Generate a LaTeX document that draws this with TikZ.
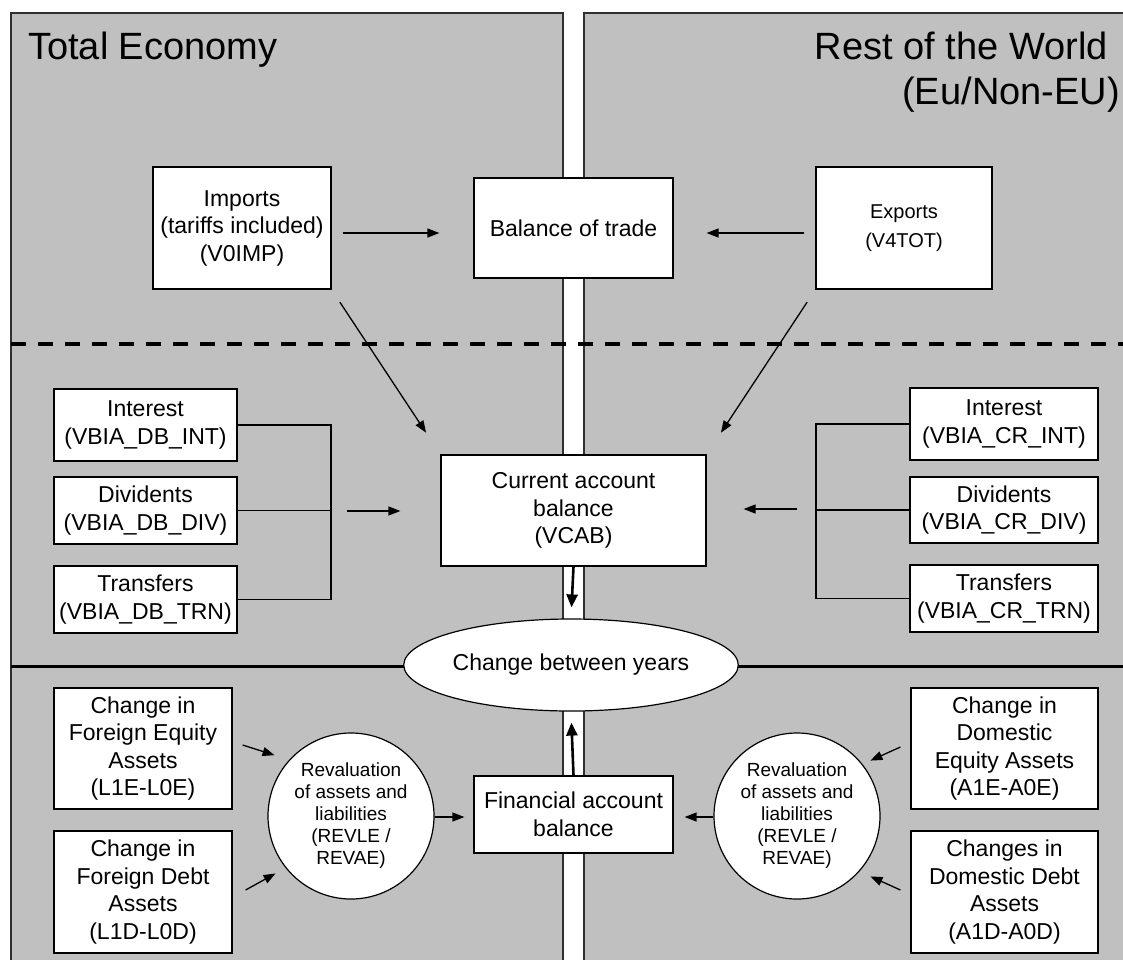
\documentclass[tikz,border=0pt]{standalone}
\usepackage{fontspec}
\setmainfont{Liberation Sans}
\usetikzlibrary{shapes.geometric,arrows.meta,calc}
\definecolor{panelgray}{HTML}{C0C0C0}
\definecolor{edgegray}{HTML}{303030}

\begin{document}
\begin{tikzpicture}[x=1pt,y=-1pt,
  panel/.style={fill=panelgray,draw=edgegray,line width=1.5pt},
  bx/.style={draw=black,fill=white,line width=1.2pt,inner sep=0pt,align=center,
    font=\fontsize{23}{27.5}\selectfont},
  smallbx/.style={bx,font=\fontsize{20}{29}\selectfont},
  revcirc/.style={circle,draw=black,fill=white,line width=1.2pt,inner sep=0pt,
    minimum size=166pt,align=center,font=\fontsize{19}{22}\selectfont},
  link/.style={line width=1.3pt},
  arr/.style={line width=1.3pt,-{Triangle[length=12pt,width=9pt]}},
  bigarr/.style={line width=2.6pt,-{Triangle[length=13pt,width=11pt]}},
  title/.style={font=\fontsize{38}{45}\selectfont,inner sep=0pt}
]
\useasboundingbox (0,0) rectangle (1123,959);

% two shaded halves
\draw[panel] (11,13) rectangle (563,975);
\draw[panel] (584,13) rectangle (1140,975);

% section separators
\draw[line width=4pt,dash pattern=on 15pt off 12pt] (11,344) -- (1123,344);
\draw[line width=3pt] (11,666) -- (1123,666);

% headings
\node[title,anchor=base west] (tecon) at (28,59) {Total Economy};
\node[title,anchor=base east] (row1) at (1108,59) {Rest of the World};
\node[title,anchor=base east] (row2) at (1120,104) {(Eu/Non-EU)};

% trade row
\node[bx,minimum width=178pt,minimum height=122pt] (imp) at (242,228)
  {Imports\\(tariffs included)\\(V0IMP)};
\node[bx,minimum width=199pt,minimum height=100pt] (bot) at (573.5,228)
  {Balance of trade};
\node[smallbx,minimum width=176pt,minimum height=122pt] (exp) at (904,228)
  {Exports\\(V4TOT)};

% income flows, left
\node[bx,minimum width=183pt,minimum height=72pt] (lint) at (145.5,425)
  {Interest\\(VBIA\_DB\_INT)};
\node[bx,minimum width=183pt,minimum height=67pt] (ldiv) at (145.5,510.5)
  {Dividents\\(VBIA\_DB\_DIV)};
\node[bx,minimum width=183pt,minimum height=67pt] (ltrn) at (145.5,599.5)
  {Transfers\\(VBIA\_DB\_TRN)};

% income flows, right
\node[bx,minimum width=188pt,minimum height=72pt] (rint) at (1004,424)
  {Interest\\(VBIA\_CR\_INT)};
\node[bx,minimum width=188pt,minimum height=66pt] (rdiv) at (1004,510)
  {Dividents\\(VBIA\_CR\_DIV)};
\node[bx,minimum width=188pt,minimum height=67pt] (rtrn) at (1004,598.5)
  {Transfers\\(VBIA\_CR\_TRN)};

% central balances
\node[bx,minimum width=265pt,minimum height=111pt] (vcab) at (573.5,510.5)
  {Current account\\balance\\(VCAB)};
\node[ellipse,draw=black,fill=white,line width=1.2pt,inner sep=0pt,
  minimum width=288pt,minimum height=92pt,font=\fontsize{23}{28}\selectfont]
  (cby) at (571,665) {Change between years};
\node[bx,minimum width=199pt,minimum height=77pt] (fin) at (573.5,814.5)
  {Financial account\\balance};

% revaluations
\node[revcirc] (lrev) at (351,816)
  {Revaluation\\of assets and\\liabilities\\(REVLE /\\REVAE)};
\node[revcirc] (rrev) at (797,816)
  {Revaluation\\of assets and\\liabilities\\(REVLE /\\REVAE)};

% asset changes
\node[bx,minimum width=178pt,minimum height=121pt] (lbe) at (143,748.5)
  {Change in\\Foreign Equity\\Assets\\(L1E-L0E)};
\node[bx,minimum width=178pt,minimum height=122pt] (lbd) at (143,892)
  {Change in\\Foreign Debt\\Assets\\(L1D-L0D)};
\node[bx,minimum width=187pt,minimum height=121pt] (rbe) at (1004.5,748.5)
  {Change in\\Domestic\\Equity Assets\\(A1E-A0E)};
\node[bx,minimum width=187pt,minimum height=122pt] (rbd) at (1004.5,892)
  {Changes in\\Domestic Debt\\Assets\\(A1D-A0D)};

% trade arrows
\draw[arr,shorten <=11pt,shorten >=34pt] ([yshift=-5pt]imp.east) -- ([yshift=-5pt]bot.west);
\draw[arr,shorten <=11pt,shorten >=33pt] ([yshift=-5pt]exp.west) -- ([yshift=-5pt]bot.east);
\draw[arr,shorten <=15pt,shorten >=26pt] (imp.south east) -- (vcab.north west);
\draw[arr,shorten <=15pt,shorten >=26pt] (exp.south west) -- (vcab.north east);

% income brackets
\coordinate (lbr) at (331,511);
\coordinate (rbr) at (816,509);
\draw[link] (lint.east) -- (lint.east -| lbr) -- (ltrn.east -| lbr) -- (ltrn.east);
\draw[link] (ldiv.east) -- (ldiv.east -| lbr);
\draw[link] (rint.west) -- (rint.west -| rbr) -- (rtrn.west -| rbr) -- (rtrn.west);
\draw[link] (rdiv.west) -- (rdiv.west -| rbr);
\draw[arr,shorten <=16pt,shorten >=40pt] (lbr) -- (lbr -| vcab.west);
\draw[arr,shorten <=19pt,shorten >=37pt] (rbr) -- (rbr -| vcab.east);

% balances into the yearly change
\draw[bigarr,shorten >=11pt] (vcab.south) -- (cby.north);
\draw[bigarr,shorten >=11pt] (fin.north) -- (cby.south);

% asset changes into revaluations
\draw[arr] ([shift={(10pt,3.5pt)}]lbe.east) -- ([shift={(-17.3pt,1.7pt)}]lrev.north west);
\draw[arr] ([shift={(13pt,2pt)}]lbd.east) -- ([shift={(-16.3pt,1.7pt)}]lrev.south west);
\draw[arr] ([shift={(-10pt,1.5pt)}]rbe.west) -- ([shift={(14.3pt,-3.7pt)}]rrev.north east);
\draw[arr] ([shift={(-10pt,2pt)}]rbd.west) -- ([shift={(14.3pt,-1.3pt)}]rrev.south east);

% revaluations into the financial account
\draw[arr,shorten >=9pt] ([yshift=-1pt]lrev.east) -- ([yshift=-1pt]lrev.east -| fin.west);
\draw[arr,shorten >=11pt] ([yshift=-1pt]rrev.west) -- ([yshift=-1pt]rrev.west -| fin.east);
\end{tikzpicture}
\end{document}
